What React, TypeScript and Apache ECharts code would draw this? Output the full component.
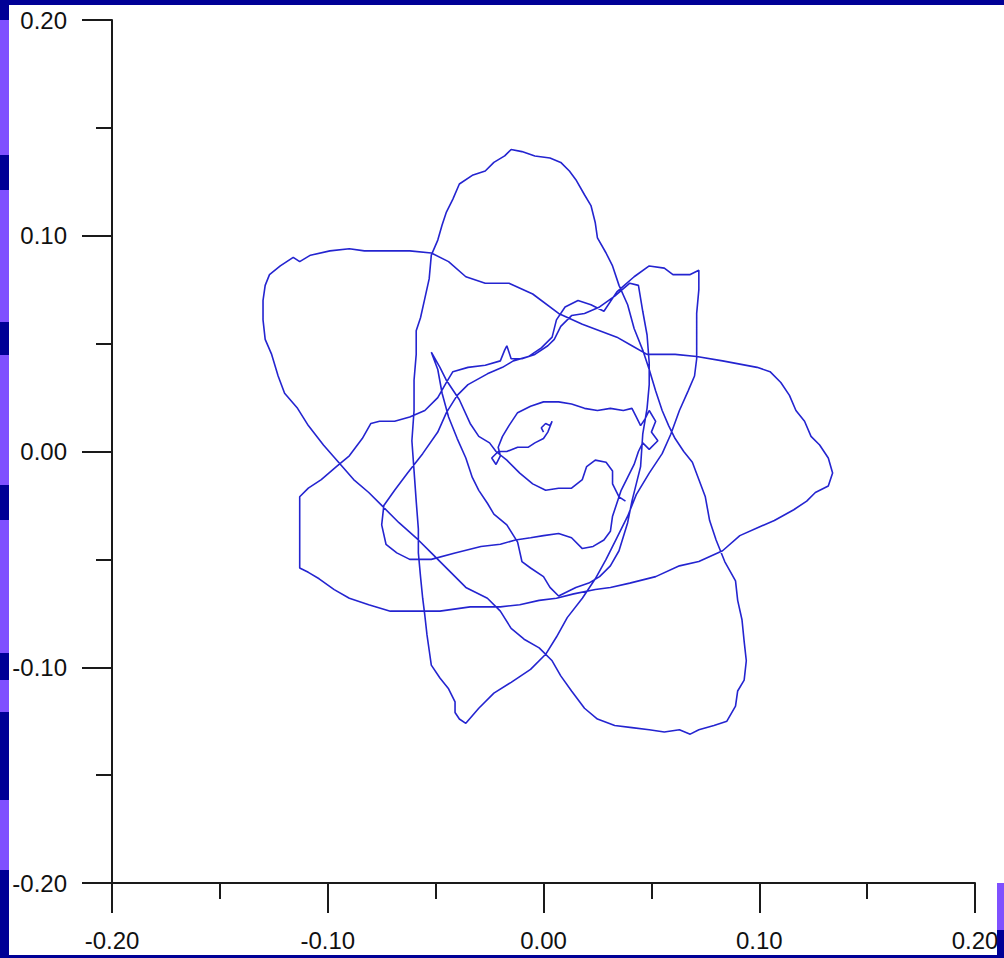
import React, { useEffect, useRef } from "react";
import * as echarts from "echarts";

// Horizontal and vertical displacement of the traced path (same units on both axes)
const pathX = [
  0.000, -0.001, 0.001, 0.003, 0.004, 0.002, 0.000, -0.004, -0.007, -0.012,
  -0.017, -0.021, -0.024, -0.022, -0.020, -0.021, -0.019, -0.016, -0.012, -0.006,
  0.000, 0.007, 0.013, 0.019, 0.025, 0.031, 0.037, 0.041, 0.043, 0.045,
  0.047, 0.049, 0.052, 0.050, 0.053, 0.049, 0.046, 0.044, 0.042, 0.039,
  0.036, 0.034, 0.032, 0.031, 0.028, 0.023, 0.018, 0.013, 0.007, 0.000,
  -0.006, -0.013, -0.020, -0.029, -0.041, -0.052, -0.062, -0.068, -0.073, -0.075,
  -0.074, -0.069, -0.063, -0.056, -0.049, -0.045, -0.040, -0.035, -0.026, -0.019,
  -0.014, -0.007, -0.001, 0.004, 0.006, 0.010, 0.016, 0.022, 0.028, 0.034,
  0.042, 0.049, 0.056, 0.060, 0.068, 0.072, 0.072, 0.071, 0.071, 0.071,
  0.070, 0.067, 0.063, 0.059, 0.055, 0.049, 0.043, 0.039, 0.034, 0.029,
  0.024, 0.018, 0.011, 0.006, 0.001, -0.006, -0.015, -0.023, -0.030, -0.036,
  -0.039, -0.041, -0.041, -0.044, -0.048, -0.052, -0.053, -0.054, -0.055, -0.056,
  -0.057, -0.058, -0.058, -0.059, -0.060, -0.061, -0.060, -0.060, -0.059, -0.059,
  -0.057, -0.055, -0.053, -0.052, -0.049, -0.047, -0.045, -0.042, -0.039, -0.033,
  -0.027, -0.023, -0.018, -0.015, -0.010, -0.004, 0.003, 0.008, 0.012, 0.015,
  0.019, 0.022, 0.024, 0.025, 0.029, 0.032, 0.035, 0.039, 0.042, 0.046,
  0.049, 0.052, 0.055, 0.058, 0.061, 0.065, 0.069, 0.072, 0.075, 0.077,
  0.080, 0.084, 0.089, 0.090, 0.092, 0.093, 0.094, 0.093, 0.090, 0.089,
  0.085, 0.079, 0.072, 0.068, 0.063, 0.056, 0.049, 0.041, 0.033, 0.025,
  0.019, 0.013, 0.008, 0.004, -0.002, -0.009, -0.015, -0.020, -0.026, -0.036,
  -0.044, -0.052, -0.058, -0.067, -0.075, -0.081, -0.088, -0.095, -0.102, -0.109,
  -0.114, -0.120, -0.123, -0.126, -0.129, -0.130, -0.130, -0.129, -0.127, -0.122,
  -0.116, -0.113, -0.108, -0.099, -0.090, -0.083, -0.074, -0.062, -0.052, -0.044,
  -0.036, -0.027, -0.016, -0.005, 0.007, 0.018, 0.026, 0.034, 0.041, 0.048,
  0.054, 0.061, 0.071, 0.083, 0.099, 0.105, 0.110, 0.114, 0.117, 0.121,
  0.124, 0.128, 0.132, 0.134, 0.132, 0.126, 0.122, 0.116, 0.107, 0.100,
  0.091, 0.083, 0.072, 0.063, 0.052, 0.040, 0.031, 0.024, 0.014, 0.006,
  -0.002, -0.011, -0.020, -0.034, -0.048, -0.062, -0.071, -0.081, -0.090, -0.097,
  -0.104, -0.109, -0.113, -0.113, -0.113, -0.113, -0.109, -0.103, -0.096, -0.090,
  -0.084, -0.080, -0.076, -0.069, -0.062, -0.055, -0.049, -0.045, -0.042, -0.035,
  -0.027, -0.020, -0.018, -0.017, -0.015, -0.010, -0.004, 0.002, 0.005, 0.008,
  0.013, 0.019, 0.026, 0.033, 0.040, 0.044, 0.046, 0.048, 0.049, 0.049,
  0.048, 0.046, 0.045, 0.041, 0.039, 0.035, 0.031, 0.026, 0.021, 0.015,
  0.007, 0.003, 0.000, -0.006, -0.010, -0.012, -0.017, -0.023, -0.026, -0.030,
  -0.033, -0.036, -0.040, -0.044, -0.047, -0.049, -0.052, -0.048, -0.045, -0.039,
  -0.034, -0.030, -0.025, -0.022, -0.017, -0.011, -0.005, 0.001, 0.007, 0.013,
  0.018, 0.020, 0.024, 0.029, 0.032, 0.032, 0.035, 0.038,
];

const pathY = [
  0.009, 0.011, 0.013, 0.012, 0.014, 0.009, 0.006, 0.004, 0.002, 0.002,
  0.000, 0.000, -0.003, -0.006, -0.002, 0.002, 0.007, 0.012, 0.018, 0.021,
  0.023, 0.023, 0.022, 0.020, 0.019, 0.020, 0.019, 0.020, 0.016, 0.012,
  0.015, 0.019, 0.014, 0.009, 0.005, 0.001, 0.004, 0.000, -0.006, -0.012,
  -0.018, -0.024, -0.030, -0.037, -0.041, -0.044, -0.045, -0.040, -0.038, -0.039,
  -0.040, -0.041, -0.043, -0.044, -0.047, -0.050, -0.050, -0.047, -0.043, -0.034,
  -0.025, -0.018, -0.010, -0.001, 0.009, 0.018, 0.026, 0.031, 0.036, 0.039,
  0.042, 0.044, 0.048, 0.053, 0.061, 0.067, 0.070, 0.068, 0.065, 0.074,
  0.081, 0.086, 0.085, 0.082, 0.082, 0.084, 0.075, 0.064, 0.052, 0.043,
  0.035, 0.028, 0.019, 0.008, -0.001, -0.010, -0.020, -0.030, -0.040, -0.050,
  -0.059, -0.068, -0.077, -0.086, -0.094, -0.101, -0.107, -0.112, -0.119, -0.126,
  -0.124, -0.121, -0.116, -0.110, -0.105, -0.099, -0.092, -0.085, -0.076, -0.068,
  -0.058, -0.047, -0.036, -0.023, -0.009, 0.005, 0.019, 0.033, 0.045, 0.056,
  0.062, 0.071, 0.080, 0.091, 0.098, 0.105, 0.111, 0.117, 0.124, 0.128,
  0.130, 0.134, 0.137, 0.140, 0.139, 0.137, 0.136, 0.134, 0.130, 0.126,
  0.119, 0.114, 0.106, 0.099, 0.092, 0.086, 0.077, 0.068, 0.057, 0.047,
  0.038, 0.028, 0.019, 0.012, 0.006, 0.000, -0.005, -0.013, -0.021, -0.032,
  -0.041, -0.051, -0.060, -0.069, -0.078, -0.088, -0.097, -0.106, -0.111, -0.118,
  -0.125, -0.127, -0.129, -0.131, -0.129, -0.130, -0.129, -0.128, -0.127, -0.124,
  -0.119, -0.111, -0.104, -0.097, -0.091, -0.087, -0.082, -0.074, -0.068, -0.063,
  -0.055, -0.047, -0.041, -0.033, -0.025, -0.019, -0.013, -0.005, 0.003, 0.012,
  0.020, 0.027, 0.035, 0.045, 0.052, 0.061, 0.070, 0.077, 0.082, 0.086,
  0.090, 0.088, 0.091, 0.093, 0.094, 0.093, 0.093, 0.093, 0.092, 0.088,
  0.081, 0.078, 0.078, 0.073, 0.064, 0.059, 0.056, 0.053, 0.049, 0.045,
  0.045, 0.045, 0.044, 0.042, 0.039, 0.037, 0.032, 0.026, 0.019, 0.014,
  0.007, 0.003, -0.003, -0.010, -0.016, -0.019, -0.023, -0.027, -0.032, -0.035,
  -0.039, -0.046, -0.051, -0.053, -0.058, -0.061, -0.063, -0.064, -0.066, -0.068,
  -0.069, -0.071, -0.072, -0.072, -0.074, -0.074, -0.074, -0.071, -0.068, -0.064,
  -0.059, -0.056, -0.054, -0.044, -0.032, -0.021, -0.017, -0.013, -0.007, -0.002,
  0.006, 0.013, 0.014, 0.014, 0.016, 0.019, 0.025, 0.032, 0.037, 0.039,
  0.040, 0.042, 0.047, 0.049, 0.043, 0.043, 0.045, 0.049, 0.052, 0.058,
  0.063, 0.064, 0.067, 0.072, 0.078, 0.077, 0.065, 0.054, 0.041, 0.031,
  0.020, 0.008, -0.007, -0.023, -0.033, -0.046, -0.053, -0.058, -0.061, -0.063,
  -0.067, -0.063, -0.058, -0.054, -0.051, -0.042, -0.034, -0.029, -0.024, -0.018,
  -0.012, -0.003, 0.006, 0.016, 0.027, 0.038, 0.046, 0.039, 0.033, 0.024,
  0.013, 0.007, 0.004, 0.000, -0.004, -0.010, -0.015, -0.018, -0.017, -0.017,
  -0.013, -0.007, -0.004, -0.005, -0.009, -0.015, -0.021, -0.023,
];

// Axis range and tick step shared by both axes
const axisMin = -0.2;
const axisMax = 0.2;
const axisStep = 0.1;

const NAVY = "#000096";
const VIOLET = "#7f50ff";

// Edge strips of the slide background: [y0, y1, colour]
const leftStrip: [number, number, string][] = [
  [0, 20, NAVY],
  [20, 155, VIOLET],
  [155, 190, NAVY],
  [190, 322, VIOLET],
  [322, 355, NAVY],
  [355, 485, VIOLET],
  [485, 520, NAVY],
  [520, 653, VIOLET],
  [653, 680, NAVY],
  [680, 712, VIOLET],
  [712, 800, NAVY],
  [800, 870, VIOLET],
  [870, 958, NAVY],
];

export default function App() {
  const ref = useRef<HTMLDivElement>(null);

  useEffect(() => {
    if (!ref.current) return;
    const chart = echarts.init(ref.current, null, { renderer: "svg" });
    const points = pathX.map((x, i) => [x, pathY[i]]);

    const axisCommon = {
      type: "value" as const,
      min: axisMin,
      max: axisMax,
      interval: axisStep,
      splitLine: { show: false },
      axisLine: { show: true, onZero: false, lineStyle: { color: "#1a1a1a", width: 2 } },
      axisTick: { show: true, inside: false, length: 30, lineStyle: { color: "#1a1a1a", width: 2 } },
      minorTick: { show: true, splitNumber: 2, length: 16, lineStyle: { color: "#1a1a1a", width: 2 } },
      axisLabel: {
        margin: 45,
        fontSize: 24,
        color: "#111",
        fontFamily: "Arial, 'Liberation Sans', sans-serif",
        formatter: (v: number) => v.toFixed(2),
      },
    };

    const frame: any[] = [
      { type: "rect", shape: { x: 0, y: 0, width: 1004, height: 5 }, style: { fill: NAVY }, silent: true },
      { type: "rect", shape: { x: 0, y: 955, width: 1004, height: 3 }, style: { fill: NAVY }, silent: true },
      { type: "rect", shape: { x: 997, y: 883, width: 7, height: 47 }, style: { fill: VIOLET }, silent: true },
      { type: "rect", shape: { x: 997, y: 930, width: 7, height: 28 }, style: { fill: NAVY }, silent: true },
      ...leftStrip.map(([y0, y1, c]) => ({
        type: "rect",
        shape: { x: 0, y: y0, width: 9, height: y1 - y0 },
        style: { fill: c },
        silent: true,
      })),
    ];

    chart.setOption({
      animation: false,
      backgroundColor: "#ffffff",
      grid: { left: 112, right: 29, top: 20, bottom: 75, containLabel: false },
      xAxis: { ...axisCommon },
      yAxis: { ...axisCommon },
      graphic: frame,
      series: [
        {
          type: "line",
          data: points,
          showSymbol: false,
          symbol: "none",
          smooth: false,
          lineStyle: { color: "#2424d0", width: 1.6 },
        },
      ],
    });

    return () => chart.dispose();
  }, []);

  return (
    <div
      ref={ref}
      style={{ position: "fixed", left: 0, top: 0, width: 1004, height: 958 }}
    />
  );
}
